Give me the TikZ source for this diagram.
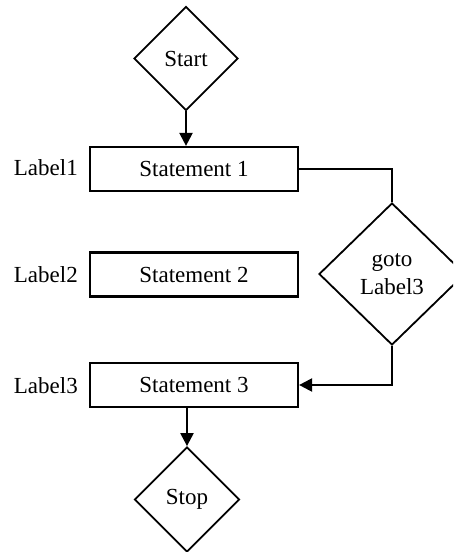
\documentclass[tikz,border=0pt]{standalone}
\usepackage{fontspec}
\setmainfont{Liberation Serif}
\usetikzlibrary{shapes.geometric,arrows.meta}
\begin{document}
\begin{tikzpicture}[x=1pt,y=-1pt,
  txt/.style={font=\fontsize{23}{28.5}\selectfont},
  stmt/.style={txt,draw,line width=2.2pt,rectangle,minimum width=208pt,minimum height=44pt,inner sep=0pt},
  dia/.style={txt,draw,line width=1.8pt,diamond,inner sep=0pt,align=center},
  lbl/.style={txt,anchor=east,inner sep=0pt},
  conn/.style={line width=2.2pt},
  arr/.style={conn,-{Triangle[length=13pt,width=13pt]}}]
\useasboundingbox (0,0) rectangle (453,552);
\clip (0,0) rectangle (453,552);
\node[dia,minimum width=104pt,minimum height=104pt] (start) at (186,58.5) {Start};
\node[stmt] (s1) at (194,169) {Statement 1};
\node[stmt] (s2) at (194,274.5) {Statement 2};
\node[stmt] (s3) at (194,385) {Statement 3};
\node[dia,minimum width=146pt,minimum height=142pt] (goto) at (392,274) {goto\\Label3};
\node[dia,minimum width=105pt,minimum height=105pt] (stop) at (187,499.5) {Stop};
\node[lbl] (l1) at (78,168) {Label1};
\node[lbl] (l2) at (78,275) {Label2};
\node[lbl] (l3) at (78,386) {Label3};
\draw[arr] (start.south) -- (start.south |- s1.north);
\draw[conn] (s1.east) -| (goto.north);
\draw[arr] (goto.south) |- (s3.east);
\draw[arr] (stop.north |- s3.south) -- (stop.north);
\end{tikzpicture}
\end{document}
